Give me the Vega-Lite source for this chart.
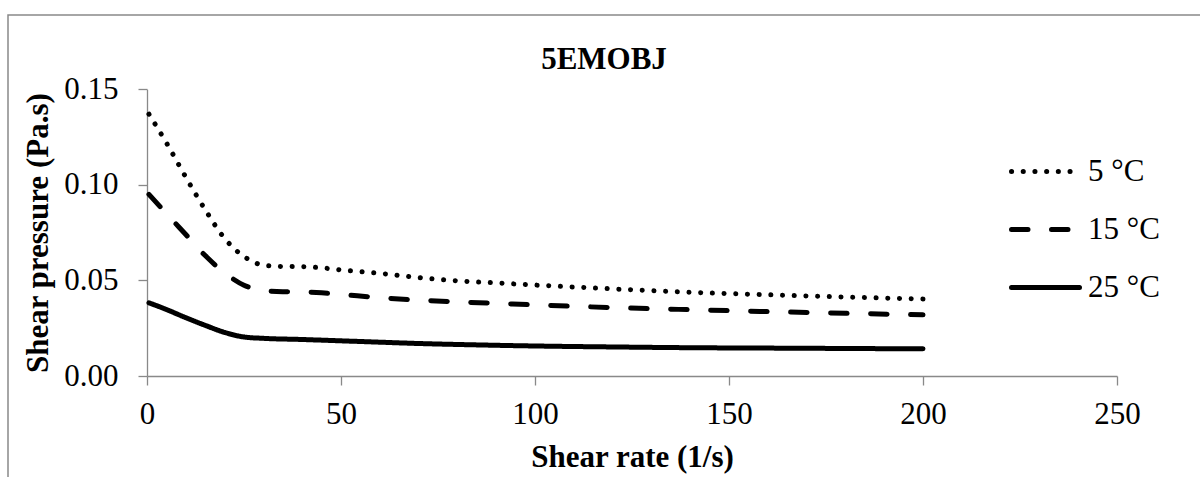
{
  "$schema": "https://vega.github.io/schema/vega-lite/v6.json",
  "width": 1192,
  "height": 462,
  "padding": {"left": 8, "top": 15, "right": 0, "bottom": 0},
  "background": "white",
  "title": {
    "text": "5EMOBJ",
    "font": "Liberation Serif",
    "fontSize": 31,
    "fontWeight": "bold",
    "color": "black",
    "anchor": "middle",
    "baseline": "alphabetic",
    "offset": -85
  },
  "data": {
    "values": [
      {"rate": 0.5, "visc": 0.137, "temp": "5 °C"},
      {"rate": 5, "visc": 0.122, "temp": "5 °C"},
      {"rate": 10, "visc": 0.104, "temp": "5 °C"},
      {"rate": 15, "visc": 0.087, "temp": "5 °C"},
      {"rate": 20, "visc": 0.072, "temp": "5 °C"},
      {"rate": 25, "visc": 0.0625, "temp": "5 °C"},
      {"rate": 30, "visc": 0.058, "temp": "5 °C"},
      {"rate": 35, "visc": 0.0573, "temp": "5 °C"},
      {"rate": 40, "visc": 0.0572, "temp": "5 °C"},
      {"rate": 45, "visc": 0.0566, "temp": "5 °C"},
      {"rate": 50, "visc": 0.0555, "temp": "5 °C"},
      {"rate": 60, "visc": 0.0537, "temp": "5 °C"},
      {"rate": 70, "visc": 0.0515, "temp": "5 °C"},
      {"rate": 80, "visc": 0.0498, "temp": "5 °C"},
      {"rate": 90, "visc": 0.0487, "temp": "5 °C"},
      {"rate": 100, "visc": 0.0476, "temp": "5 °C"},
      {"rate": 120, "visc": 0.0456, "temp": "5 °C"},
      {"rate": 140, "visc": 0.0438, "temp": "5 °C"},
      {"rate": 160, "visc": 0.0425, "temp": "5 °C"},
      {"rate": 180, "visc": 0.0413, "temp": "5 °C"},
      {"rate": 200, "visc": 0.0403, "temp": "5 °C"},
      {"rate": 0.5, "visc": 0.095, "temp": "15 °C"},
      {"rate": 5, "visc": 0.085, "temp": "15 °C"},
      {"rate": 10, "visc": 0.074, "temp": "15 °C"},
      {"rate": 15, "visc": 0.063, "temp": "15 °C"},
      {"rate": 20, "visc": 0.054, "temp": "15 °C"},
      {"rate": 25, "visc": 0.0475, "temp": "15 °C"},
      {"rate": 30, "visc": 0.0448, "temp": "15 °C"},
      {"rate": 35, "visc": 0.0441, "temp": "15 °C"},
      {"rate": 40, "visc": 0.044, "temp": "15 °C"},
      {"rate": 45, "visc": 0.0435, "temp": "15 °C"},
      {"rate": 50, "visc": 0.0427, "temp": "15 °C"},
      {"rate": 60, "visc": 0.041, "temp": "15 °C"},
      {"rate": 70, "visc": 0.0397, "temp": "15 °C"},
      {"rate": 80, "visc": 0.0388, "temp": "15 °C"},
      {"rate": 90, "visc": 0.038, "temp": "15 °C"},
      {"rate": 100, "visc": 0.0372, "temp": "15 °C"},
      {"rate": 120, "visc": 0.0358, "temp": "15 °C"},
      {"rate": 140, "visc": 0.0347, "temp": "15 °C"},
      {"rate": 160, "visc": 0.0337, "temp": "15 °C"},
      {"rate": 180, "visc": 0.0328, "temp": "15 °C"},
      {"rate": 200, "visc": 0.032, "temp": "15 °C"},
      {"rate": 0.5, "visc": 0.0383, "temp": "25 °C"},
      {"rate": 5, "visc": 0.0348, "temp": "25 °C"},
      {"rate": 10, "visc": 0.0305, "temp": "25 °C"},
      {"rate": 15, "visc": 0.0265, "temp": "25 °C"},
      {"rate": 20, "visc": 0.0228, "temp": "25 °C"},
      {"rate": 25, "visc": 0.0204, "temp": "25 °C"},
      {"rate": 30, "visc": 0.0197, "temp": "25 °C"},
      {"rate": 40, "visc": 0.0191, "temp": "25 °C"},
      {"rate": 50, "visc": 0.0184, "temp": "25 °C"},
      {"rate": 60, "visc": 0.0177, "temp": "25 °C"},
      {"rate": 70, "visc": 0.017, "temp": "25 °C"},
      {"rate": 80, "visc": 0.0165, "temp": "25 °C"},
      {"rate": 100, "visc": 0.0157, "temp": "25 °C"},
      {"rate": 120, "visc": 0.0152, "temp": "25 °C"},
      {"rate": 140, "visc": 0.0148, "temp": "25 °C"},
      {"rate": 160, "visc": 0.0146, "temp": "25 °C"},
      {"rate": 180, "visc": 0.0144, "temp": "25 °C"},
      {"rate": 200, "visc": 0.0142, "temp": "25 °C"}
    ]
  },
  "mark": {
    "type": "line",
    "interpolate": "monotone",
    "color": "black",
    "strokeWidth": 5,
    "strokeCap": "round",
    "clip": false
  },
  "encoding": {
    "x": {
      "field": "rate",
      "type": "quantitative",
      "scale": {"domain": [0, 250], "range": [139, 1109], "nice": false},
      "axis": {
        "title": "Shear rate (1/s)",
        "values": [0, 50, 100, 150, 200, 250],
        "offset": -101,
        "labelPadding": 14,
        "labelFlush": false,
        "titlePadding": 13
      }
    },
    "y": {
      "field": "visc",
      "type": "quantitative",
      "scale": {"domain": [0, 0.15], "range": [361, 74.3], "nice": false, "zero": false},
      "axis": {
        "title": "Shear pressure (Pa.s)",
        "values": [0, 0.05, 0.1, 0.15],
        "format": ".2f",
        "offset": -139,
        "labelPadding": 20,
        "labelFlush": false,
        "titlePadding": 9
      }
    },
    "strokeDash": {
      "field": "temp",
      "type": "nominal",
      "scale": {
        "domain": ["5 °C", "15 °C", "25 °C"],
        "range": [[0.1, 11.6], [16.5, 23.5], [1, 0]]
      },
      "legend": {
        "title": null,
        "orient": "none",
        "legendX": 1001,
        "legendY": 141,
        "symbolType": "stroke",
        "symbolSize": 4624,
        "symbolStrokeWidth": 5,
        "symbolStrokeColor": "black",
        "clipHeight": 31,
        "rowPadding": 26,
        "labelOffset": 6,
        "padding": 0,
        "encode": {
          "symbols": {"update": {"strokeCap": {"value": "round"}}}
        }
      }
    }
  },
  "config": {
    "view": {
      "stroke": "#898989",
      "strokeWidth": 1.5,
      "strokeDash": [1192, 1654, 470]
    },
    "axis": {
      "grid": false,
      "labelFont": "Liberation Serif",
      "labelFontSize": 31,
      "labelColor": "black",
      "titleFont": "Liberation Serif",
      "titleFontSize": 31,
      "titleFontWeight": "bold",
      "titleColor": "black",
      "domainColor": "#898989",
      "domainWidth": 1.3,
      "tickColor": "#898989",
      "tickWidth": 1.3,
      "tickSize": 9
    },
    "legend": {
      "labelFont": "Liberation Serif",
      "labelFontSize": 31,
      "labelColor": "black",
      "labelLimit": 300
    }
  }
}
